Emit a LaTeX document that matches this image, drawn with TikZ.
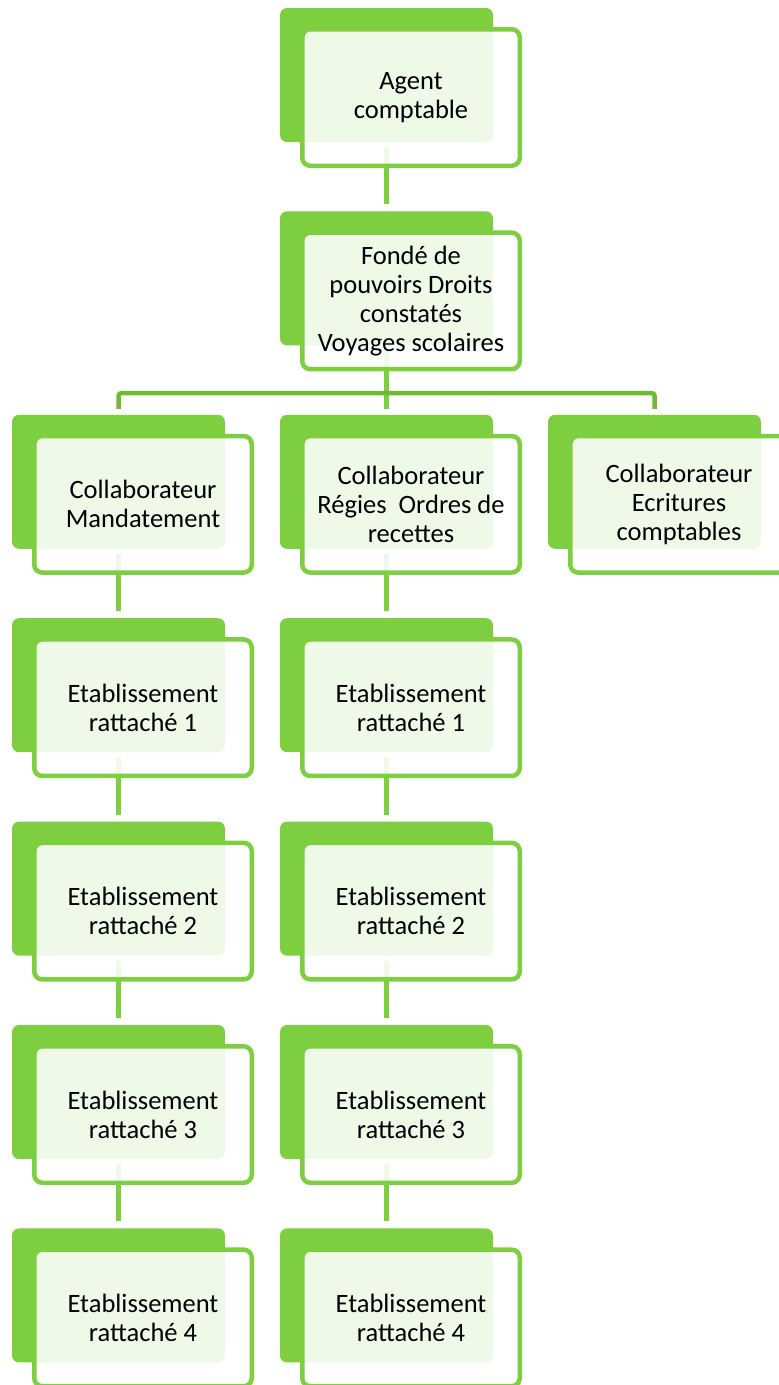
\documentclass[tikz,border=0pt]{standalone}
\usepackage{fontspec}
\setmainfont{Carlito}
\usepackage{tikz}
\usetikzlibrary{calc}
\usetikzlibrary{backgrounds}
\definecolor{leafgreen}{RGB}{125,207,64}
\definecolor{bargreen}{RGB}{112,186,52}
\tikzstyle{backbox} = [fill=leafgreen, rectangle, rounded corners=7pt,
minimum width=213pt, minimum height=134pt, inner sep=0pt, outer sep=0pt, anchor=north west]
\tikzstyle{frontbox} = [draw=leafgreen, fill=white, fill opacity=0.88, text opacity=1,
line width=4.5pt, rectangle, rounded corners=8pt, minimum width=217.5pt, minimum height=136.5pt,
inner sep=0pt, outer sep=0pt, align=center, anchor=north west, font=\fontsize{26.5}{29}\selectfont]
\tikzstyle{link} = [draw=leafgreen, line width=4.5pt, shorten <=5pt, shorten >=7pt]
\tikzstyle{bar} = [draw=bargreen, line width=4.5pt, rounded corners=3pt]
% one entry of the chart: green card behind, framed card with text in front
\newcommand{\orgbox}[4]{%
\node [backbox] (#1) at (#2,#3) {};
\node [frontbox] (#1-txt) at ($(#1.north west)+(22.25,21.25)$) {#4};
}

\begin{document}
\begin{tikzpicture}[x=1pt, y=-1pt]
        \useasboundingbox (0,0) rectangle (779,1385);
        \orgbox{agent}{280}{8}{Agent\\comptable}
        \orgbox{fonde}{280}{211.4}{Fondé de\\pouvoirs Droits\\constatés\\Voyages scolaires}
        \orgbox{mandat}{12}{414.8}{Collaborateur\\Mandatement}
        \orgbox{regies}{280}{414.8}{Collaborateur\\Régies\ \ Ordres de\\recettes}
        \orgbox{ecrit}{548}{414.8}{Collaborateur\\Ecritures\\comptables}
        \orgbox{mA}{12}{618.2}{Etablissement\\rattaché 1}
        \orgbox{rA}{280}{618.2}{Etablissement\\rattaché 1}
        \orgbox{mB}{12}{821.6}{Etablissement\\rattaché 2}
        \orgbox{rB}{280}{821.6}{Etablissement\\rattaché 2}
        \orgbox{mC}{12}{1025}{Etablissement\\rattaché 3}
        \orgbox{rC}{280}{1025}{Etablissement\\rattaché 3}
        \orgbox{mD}{12}{1228.4}{Etablissement\\rattaché 4}
        \orgbox{rD}{280}{1228.4}{Etablissement\\rattaché 4}
        \begin{scope}[on background layer]
            \coordinate (hub) at ($(fonde.south)+(0,47.6)$);
            \draw [link] (agent.south) -- (fonde.north);
            \draw [link, shorten >=6pt] (fonde.south) -- (regies.north);
            \draw [bar] ([yshift=6pt]mandat.north) |- (hub) -| ([yshift=6pt]ecrit.north);
            \draw [link] (mandat.south) -- (mA.north);
            \draw [link] (mA.south) -- (mB.north);
            \draw [link] (mB.south) -- (mC.north);
            \draw [link] (mC.south) -- (mD.north);
            \draw [link] (regies.south) -- (rA.north);
            \draw [link] (rA.south) -- (rB.north);
            \draw [link] (rB.south) -- (rC.north);
            \draw [link] (rC.south) -- (rD.north);
        \end{scope}
    \end{tikzpicture}
\end{document}
